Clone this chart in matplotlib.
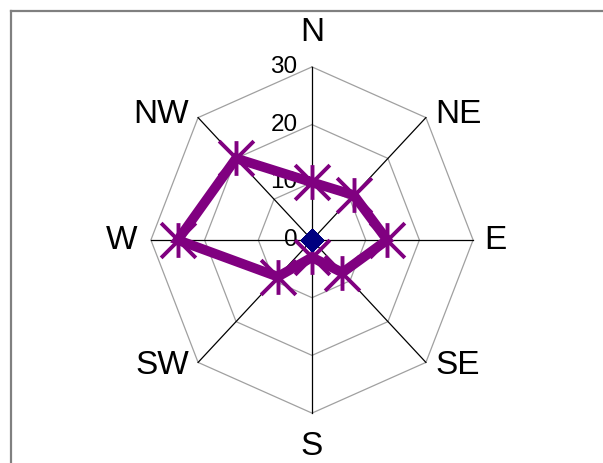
import numpy as np
import matplotlib.pyplot as plt
from matplotlib.path import Path
from matplotlib.lines import Line2D

plt.rcParams['font.family'] = ['Liberation Sans', 'DejaVu Sans']

directions = ["N", "NE", "E", "SE", "S", "SW", "W", "NW"]
series_a = [10, 11, 14, 8, 3, 9, 25, 20]
series_b = [0, 0, 0, 0, 0, 0, 0, 0]
rings = [10, 20, 30]
ring_labels = ["0", "10", "20", "30"]

# compass angles, clockwise from north
theta = np.deg2rad(np.arange(len(directions)) * 45)

def xy(r):
    r = np.asarray(r, dtype=float)
    return r * np.sin(theta), r * np.cos(theta)

def closed(a):
    return np.append(a, a[0])

fig = plt.figure(figsize=(6.03, 4.63), dpi=100)
ax = fig.add_axes([0, 0, 1, 1])
# pixel scale of the original (slightly taller than wide)
sx, sy = 5.37, 5.77
cx, cy = 312, 240
ax.set_xlim(-cx / sx, (603 - cx) / sx)
ax.set_ylim(-(463 - cy) / sy, cy / sy)
ax.axis("off")

# grid rings and spokes
for r in rings:
    gx, gy = xy([r] * len(directions))
    ax.plot(closed(gx), closed(gy), color="#a0a0a0", lw=0.9, zorder=1)
ex, ey = xy([30] * len(directions))
for x1, y1 in zip(ex, ey):
    ax.plot([0, x1], [0, y1], color="black", lw=0.9, zorder=1)

# value labels
for i, lab in enumerate(ring_labels):
    ax.text(-2.7, i * 10, lab, ha="right", va="center", fontsize=17.5)

# direction labels
lx, ly = xy([35.5] * len(directions))
has = ["center", "left", "left", "left", "center", "right", "right", "right"]
offs = [(0, 0.5), (-2.2, -3.3), (-3.5, 0), (-2.2, 3.3), (0, -0.3), (2.2, 3.3), (3.0, 0), (2.2, -3.3)]
for d, x, y, ha, (dx, dy) in zip(directions, lx, ly, has, offs):
    ax.text(x + dx, y + dy, d, ha=ha, va="center", fontsize=24)

# star marker (x with a vertical bar)
star = Path([(-1, -1), (1, 1), (-1, 1), (1, -1), (0, -1), (0, 1)],
            [Path.MOVETO, Path.LINETO, Path.MOVETO, Path.LINETO, Path.MOVETO, Path.LINETO])

ax_, ay_ = xy(series_a)
ax.plot(closed(ax_), closed(ay_), color="#800080", lw=7, solid_joinstyle="miter", zorder=3)
ax.plot(ax_, ay_, ls="none", marker=star, markersize=25, markeredgewidth=2.8,
        markeredgecolor="#800080", zorder=4)

bx, by = xy(series_b)
ax.plot(closed(bx), closed(by), color="#000080", lw=1, marker="D", markersize=11,
        markerfacecolor="#000080", markeredgecolor="#000080", zorder=5)

# chart area border (cut off on the right and bottom)
fig.add_artist(Line2D([10.5 / 603, 10.5 / 603], [0, 1 - 10.5 / 463], transform=fig.transFigure,
                      color="#808080", lw=1.6))
fig.add_artist(Line2D([10.5 / 603, 1], [1 - 10.5 / 463, 1 - 10.5 / 463], transform=fig.transFigure,
                      color="#808080", lw=1.6))

fig.savefig("out.png", dpi=100)
